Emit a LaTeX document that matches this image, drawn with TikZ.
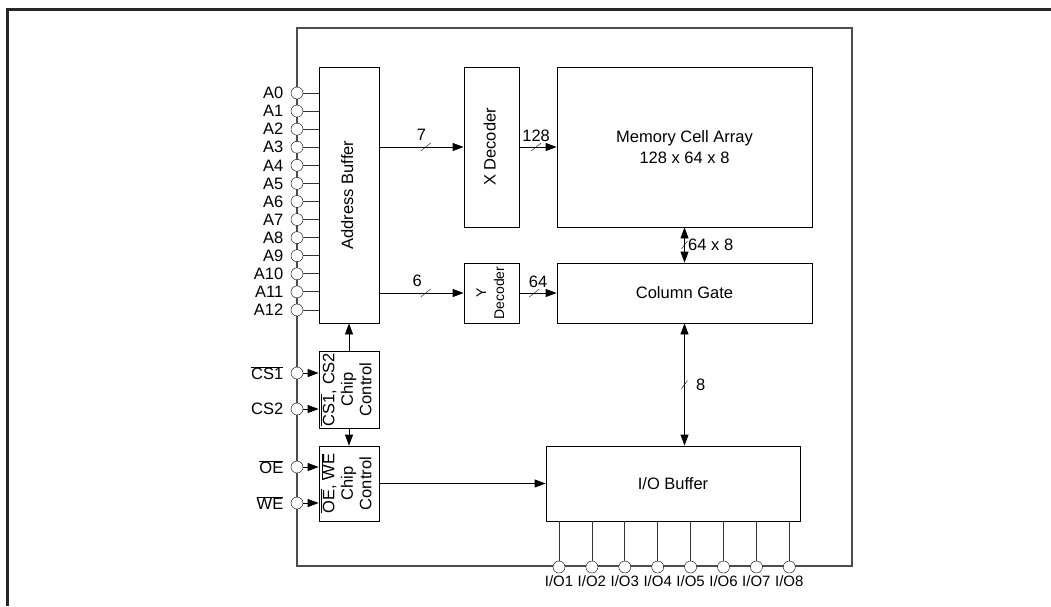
\documentclass[tikz,border=0pt]{standalone}
\usepackage{fontspec}
\setmainfont{Liberation Sans}
\usepackage{graphicx}
\usepackage{tikz}
\usetikzlibrary{arrows.meta,positioning,calc}
\newcommand{\ovl}[1]{$\overline{\hbox{#1}}$}
\newcommand{\vtext}[1]{\rotatebox{90}{\begin{tabular}{@{}c@{}}#1\end{tabular}}}
\newcommand{\busmark}[2][5]{\draw ($(#2)+(-#1,4)$) -- ($(#2)+(#1,-4)$);}

\begin{document}
\begin{tikzpicture}[
  x=1pt, y=-1pt,
  font=\fontsize{16.5}{21}\selectfont,
  blk/.style={draw, thick, inner sep=0pt, align=center},
  ctl/.style={blk, minimum width=60pt, font=\fontsize{16.5}{18.5}\selectfont},
  pin/.style={circle, draw, fill=white, minimum size=12pt, inner sep=0pt},
  lbl/.style={label distance=4pt},
  wire/.style={draw=black!80, thick},
  arr/.style={thick, -{Triangle[length=11pt,width=8pt]}},
  darr/.style={thick, {Triangle[length=11pt,width=8pt]}-{Triangle[length=11pt,width=8pt]}}
]
\useasboundingbox (0,0) rectangle (1051,606);
\draw[line width=3pt, black!85] (7,606) -- (7,9) -- (1051,9);
% chip outline
\draw[black!70, line width=1.3pt] (297,28) rectangle (852,566);

% blocks
\node[blk, minimum width=60pt, minimum height=256pt] (ab) at (349,195) {\vtext{Address Buffer}};
\node[blk, minimum width=55pt, minimum height=160pt] (xd) at (491.5,147) {\vtext{X Decoder}};
\node[blk, minimum width=255pt, minimum height=160pt] (mem) at (684.5,147) {Memory Cell Array\\128 x 64 x 8};
\node[blk, minimum width=55pt, minimum height=60pt, font=\fontsize{14}{18}\selectfont] (yd) at (491.5,293) {\vtext{Y\\Decoder}};
\node[blk, minimum width=255pt, minimum height=60pt] (cg) at (684.5,293) {Column Gate};
\node[ctl, minimum height=77pt] (cs) at (349,389.5) {\vtext{\ovl{CS1}, CS2\\Chip\\Control}};
\node[ctl, minimum height=75pt] (oe) at (349,483.5) {\vtext{\ovl{OE}, \ovl{WE}\\Chip\\Control}};
\node[blk, minimum width=254pt, minimum height=75pt] (io) at (673,483.5) {I/O Buffer};

% address pins
\foreach \i in {0,...,12} {
  \node[pin, label={[lbl]left:A\i}] (a\i) at (297,93+18.08*\i) {};
  \draw[wire] (a\i) -- (a\i -| ab.west);
}

% control pins
\node[pin, label={[lbl]left:\ovl{CS1}}] (cs1) at (297,373) {};
\node[pin, label={[lbl]left:CS2}] (cs2) at (297,409) {};
\node[pin, label={[lbl]left:\ovl{OE}}] (oep) at (297,467) {};
\node[pin, label={[lbl]left:\ovl{WE}}] (wep) at (297,503) {};
\foreach \p/\b in {cs1/cs, cs2/cs, oep/oe, wep/oe}
  \draw[arr] (\p) -- (\p -| \b.west);

% data pins
\foreach \i in {1,...,8} {
  \node[pin, label={[label distance=0pt, inner sep=2pt, font=\fontsize{15}{18}\selectfont]below:I/O\i}] (io\i) at (559+32.9*\i-32.9,567) {};
  \draw[wire] (io.south -| io\i) -- (io\i);
}

% buses
\draw[arr] (xd.west -| ab.east) -- coordinate[pos=.55] (s7) node[pos=.5, above=3pt] {7} (xd.west);
\busmark{s7}
\draw[arr] (yd.west -| ab.east) -- coordinate[pos=.55] (s6) node[pos=.45, above=3pt] {6} (yd.west);
\busmark{s6}
\draw[arr] (xd.east) -- coordinate[pos=.45] (s128) node[pos=.45, above=2pt] {128} (xd.east -| mem.west);
\busmark{s128}
\draw[arr] (yd.east) -- coordinate[pos=.4] (s64) node[pos=.5, above=2pt] {64} (cg.west);
\busmark{s64}
\draw[darr] (mem.south) -- coordinate[pos=.5] (s512) node[pos=.5, right=0pt] {64 x 8} (cg.north);
\busmark[3]{s512}
\draw[darr] (cg.south) -- coordinate[pos=.5] (s8) node[pos=.5, right=8pt] {8} (cg.south |- io.north);
\busmark[3]{s8}

% control
\draw[arr] (cs.north) -- (ab.south);
\draw[arr] (cs.south) -- (oe.north);
\draw[arr] (oe.east) -- (oe.east -| io.west);
\end{tikzpicture}
\end{document}
